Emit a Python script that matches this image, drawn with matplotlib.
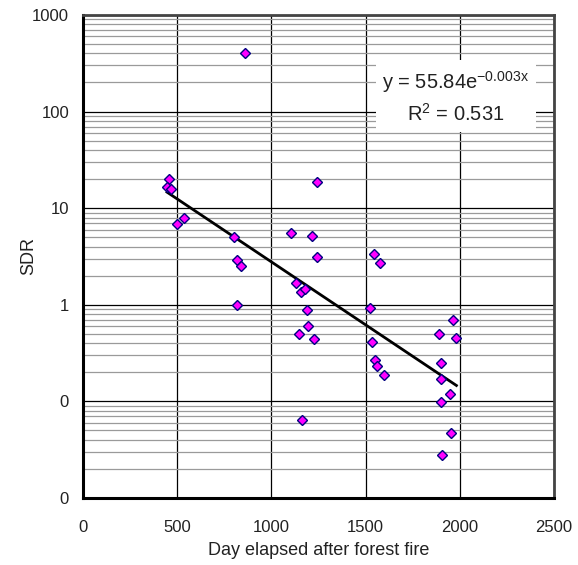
import numpy as np
import matplotlib
matplotlib.use("Agg")
import matplotlib.pyplot as plt
from matplotlib.ticker import FixedLocator, FixedFormatter, LogLocator, NullFormatter

plt.rcParams['font.family'] = ['Liberation Sans', 'DejaVu Sans']

# days after the fire vs. SDR
days = [858, 455, 446, 469, 501, 534, 803, 817, 837, 1104,
        1131, 1240, 1217, 1240, 1543, 1575, 1157, 1178, 817, 1187,
        1194, 1145, 1226, 1164, 1522, 1536, 1550, 1562, 1597, 1891,
        1966, 1982, 1899, 1899, 1946, 1899, 1952, 1906]
sdr = [401, 20.1, 16.5, 15.8, 6.9, 7.9, 5.0, 2.91, 2.52, 5.54,
       1.67, 18.8, 5.12, 3.10, 3.38, 2.71, 1.36, 1.47, 1.0, 0.877,
       0.599, 0.495, 0.446, 0.064, 0.933, 0.415, 0.266, 0.232, 0.186, 0.495,
       0.701, 0.456, 0.250, 0.169, 0.118, 0.098, 0.047, 0.0277]

# exponential fit y = a * exp(b x)
fit_a = 55.84
fit_b = -0.003
fit_r2 = 0.531

x_ticks = [0, 500, 1000, 1500, 2000, 2500]
y_ticks = [0.01, 0.1, 1, 10, 100, 1000]
y_tick_labels = ["0", "0", "1", "10", "100", "1000"]

fig = plt.figure(figsize=(5.78, 5.65), dpi=100)
ax = fig.add_axes([0.1436, 0.1186, 0.8149, 0.8549])

ax.set_yscale('log')
ax.set_xlim(0, 2500)
ax.set_ylim(0.01, 1000)

ax.xaxis.set_major_locator(FixedLocator(x_ticks))
ax.yaxis.set_major_locator(FixedLocator(y_ticks))
ax.yaxis.set_major_formatter(FixedFormatter(y_tick_labels))
ax.yaxis.set_minor_locator(LogLocator(base=10, subs=np.arange(2, 10), numticks=20))
ax.yaxis.set_minor_formatter(NullFormatter())

ax.grid(True, which='major', axis='both', color='black', lw=0.9)
ax.grid(True, which='minor', axis='y', color='#9a9a9a', lw=0.9)
ax.set_axisbelow(True)

ax.tick_params(which='both', length=0, labelsize=12, colors='#222222')
ax.tick_params(axis='x', pad=16)
ax.tick_params(axis='y', pad=10)

for side in ['top', 'right']:
    ax.spines[side].set_color('#444444')
    ax.spines[side].set_linewidth(2)
for side in ['left', 'bottom']:
    ax.spines[side].set_color('black')
    ax.spines[side].set_linewidth(2.2)

# trend line over the data range
xf = np.linspace(min(days), max(days), 200)
ax.plot(xf, fit_a * np.exp(fit_b * xf), color='black', lw=2, zorder=3)

ax.plot(days, sdr, linestyle='none', marker='D', markersize=5.5,
        markerfacecolor='#ff00ff', markeredgecolor='#000080',
        markeredgewidth=1, zorder=4)

eq = "y = %.2fe$^{\\mathregular{%s%.3fx}}$\nR$^{\\mathregular{2}}$ = %.3f" % (
    fit_a, '\u2212', abs(fit_b), fit_r2)
ax.text(0.792, 0.830, eq, transform=ax.transAxes, ha='center', va='center',
        fontsize=14.5, color='#222222', linespacing=1.45,
        bbox=dict(facecolor='white', edgecolor='none', pad=5), zorder=5)

ax.set_xlabel("Day elapsed after forest fire", fontsize=13, color='#222222')
ax.set_ylabel("SDR", fontsize=13, color='#222222')
ax.xaxis.set_label_coords(0.5, -0.092)
ax.yaxis.set_label_coords(-0.098, 0.5)

fig.savefig("out.png", dpi=100)
